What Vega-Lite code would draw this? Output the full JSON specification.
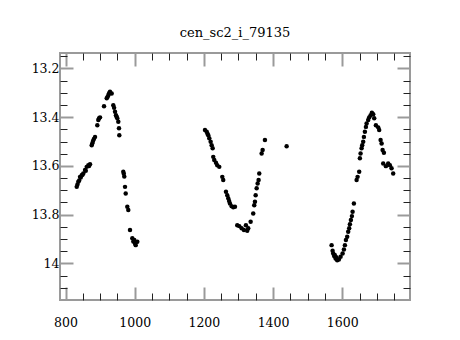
{
  "$schema": "https://vega.github.io/schema/vega-lite/v6.json",
  "autosize": "none",
  "width": 350,
  "height": 247,
  "padding": {"left": 60, "top": 53, "right": 50, "bottom": 40},
  "background": "white",
  "title": {"text": "cen_sc2_i_79135", "font": "DejaVu Serif", "fontSize": 13, "fontWeight": "normal", "color": "black", "offset": 10, "anchor": "middle"},
  "config": {
    "view": {"stroke": "#9a9a9a", "strokeWidth": 2},
    "axis": {"domain": false, "grid": false, "title": null, "labelFont": "DejaVu Serif", "labelFontSize": 12.5, "labelColor": "black"}
  },
  "data": {"values": [
    {"t": 832.4, "m": 13.686}, {"t": 834.5, "m": 13.676}, {"t": 837.0, "m": 13.665}, {"t": 839.5, "m": 13.66}, {"t": 841.9, "m": 13.645}, {"t": 844.0, "m": 13.648},
    {"t": 846.8, "m": 13.638}, {"t": 849.0, "m": 13.636}, {"t": 851.4, "m": 13.631}, {"t": 856.4, "m": 13.617}, {"t": 858.5, "m": 13.62}, {"t": 861.3, "m": 13.604},
    {"t": 865.9, "m": 13.597}, {"t": 868.0, "m": 13.6}, {"t": 870.8, "m": 13.593},
    {"t": 875.7, "m": 13.515}, {"t": 877.5, "m": 13.507}, {"t": 879.5, "m": 13.498}, {"t": 882.0, "m": 13.49}, {"t": 885.3, "m": 13.481},
    {"t": 891.9, "m": 13.433}, {"t": 894.8, "m": 13.412}, {"t": 897.0, "m": 13.405}, {"t": 899.7, "m": 13.401},
    {"t": 911.3, "m": 13.355}, {"t": 919.1, "m": 13.323}, {"t": 921.0, "m": 13.318}, {"t": 923.7, "m": 13.31}, {"t": 926.0, "m": 13.302}, {"t": 928.6, "m": 13.296}, {"t": 933.5, "m": 13.303},
    {"t": 938.1, "m": 13.351}, {"t": 940.5, "m": 13.362}, {"t": 943.1, "m": 13.378}, {"t": 945.9, "m": 13.392}, {"t": 947.5, "m": 13.398}, {"t": 949.7, "m": 13.405},
    {"t": 952.6, "m": 13.419}, {"t": 954.6, "m": 13.446}, {"t": 955.5, "m": 13.474},
    {"t": 967.0, "m": 13.624}, {"t": 968.5, "m": 13.632}, {"t": 969.9, "m": 13.644}, {"t": 972.0, "m": 13.686}, {"t": 974.0, "m": 13.713},
    {"t": 978.6, "m": 13.768}, {"t": 981.5, "m": 13.781},
    {"t": 986.4, "m": 13.863}, {"t": 993.1, "m": 13.897}, {"t": 996.0, "m": 13.91}, {"t": 998.8, "m": 13.904}, {"t": 1001.0, "m": 13.918}, {"t": 1002.9, "m": 13.925}, {"t": 1007.5, "m": 13.911},
    {"t": 1203.2, "m": 13.453}, {"t": 1208.1, "m": 13.46}, {"t": 1210.5, "m": 13.468}, {"t": 1212.7, "m": 13.474}, {"t": 1215.6, "m": 13.487}, {"t": 1219.6, "m": 13.501},
    {"t": 1222.5, "m": 13.515}, {"t": 1225.4, "m": 13.528}, {"t": 1227.1, "m": 13.563}, {"t": 1230.0, "m": 13.576}, {"t": 1235.0, "m": 13.587},
    {"t": 1238.7, "m": 13.597}, {"t": 1244.5, "m": 13.604}, {"t": 1253.2, "m": 13.645}, {"t": 1256.0, "m": 13.658},
    {"t": 1263.9, "m": 13.706}, {"t": 1267.6, "m": 13.72}, {"t": 1270.5, "m": 13.733}, {"t": 1273.0, "m": 13.744}, {"t": 1275.4, "m": 13.754}, {"t": 1280.3, "m": 13.765},
    {"t": 1285.0, "m": 13.77}, {"t": 1289.9, "m": 13.768},
    {"t": 1296.5, "m": 13.843}, {"t": 1302.3, "m": 13.847}, {"t": 1309.2, "m": 13.856}, {"t": 1315.9, "m": 13.863}, {"t": 1321.6, "m": 13.843},
    {"t": 1325.4, "m": 13.866}, {"t": 1328.3, "m": 13.856}, {"t": 1335.2, "m": 13.829},
    {"t": 1342.7, "m": 13.795}, {"t": 1345.6, "m": 13.761}, {"t": 1347.7, "m": 13.747}, {"t": 1349.7, "m": 13.72}, {"t": 1352.6, "m": 13.692},
    {"t": 1355.5, "m": 13.672}, {"t": 1358.3, "m": 13.658}, {"t": 1360.1, "m": 13.631},
    {"t": 1367.0, "m": 13.549}, {"t": 1369.9, "m": 13.535}, {"t": 1376.6, "m": 13.494}, {"t": 1439.3, "m": 13.519},
    {"t": 1569.3, "m": 13.925}, {"t": 1572.2, "m": 13.948}, {"t": 1574.0, "m": 13.959}, {"t": 1576.8, "m": 13.97}, {"t": 1578.5, "m": 13.965}, {"t": 1580.9, "m": 13.98},
    {"t": 1583.0, "m": 13.975}, {"t": 1585.5, "m": 13.987}, {"t": 1590.4, "m": 13.984}, {"t": 1595.3, "m": 13.973}, {"t": 1601.1, "m": 13.959}, {"t": 1604.9, "m": 13.943},
    {"t": 1607.8, "m": 13.925}, {"t": 1610.7, "m": 13.904}, {"t": 1614.4, "m": 13.891}, {"t": 1617.3, "m": 13.87}, {"t": 1620.2, "m": 13.856},
    {"t": 1622.2, "m": 13.839}, {"t": 1625.1, "m": 13.822}, {"t": 1628.0, "m": 13.806}, {"t": 1630.0, "m": 13.788}, {"t": 1633.8, "m": 13.754},
    {"t": 1641.6, "m": 13.658}, {"t": 1644.5, "m": 13.645}, {"t": 1649.1, "m": 13.624}, {"t": 1651.1, "m": 13.569}, {"t": 1653.1, "m": 13.549},
    {"t": 1656.0, "m": 13.528}, {"t": 1657.8, "m": 13.515}, {"t": 1660.7, "m": 13.501}, {"t": 1662.7, "m": 13.481}, {"t": 1665.6, "m": 13.46},
    {"t": 1668.5, "m": 13.44}, {"t": 1670.5, "m": 13.426}, {"t": 1675.1, "m": 13.412}, {"t": 1678.0, "m": 13.401}, {"t": 1682.1, "m": 13.392},
    {"t": 1685.8, "m": 13.382}, {"t": 1689.6, "m": 13.388}, {"t": 1692.5, "m": 13.405}, {"t": 1697.4, "m": 13.433}, {"t": 1704.0, "m": 13.442},
    {"t": 1706.9, "m": 13.453}, {"t": 1711.0, "m": 13.494}, {"t": 1713.9, "m": 13.508}, {"t": 1716.8, "m": 13.535}, {"t": 1720.5, "m": 13.546},
    {"t": 1718.5, "m": 13.59}, {"t": 1726.3, "m": 13.601}, {"t": 1732.9, "m": 13.59}, {"t": 1737.8, "m": 13.597}, {"t": 1742.7, "m": 13.61}, {"t": 1747.4, "m": 13.631}
  ]},
  "layer": [
    {
      "mark": {"type": "circle", "color": "black", "opacity": 1, "size": 20},
      "encoding": {
        "x": {"field": "t", "type": "quantitative",
          "scale": {"domain": [784, 1796], "nice": false, "zero": false},
          "axis": {"orient": "bottom", "values": [800, 850, 900, 950, 1000, 1050, 1100, 1150, 1200, 1250, 1300, 1350, 1400, 1450, 1500, 1550, 1600, 1650, 1700, 1750],
            "labelExpr": "datum.value % 200 === 0 ? format(datum.value, 'd') : ''",
            "tickSize": {"condition": {"test": "datum.value % 200 === 0", "value": -13}, "value": -7},
            "tickColor": {"condition": {"test": "datum.value % 200 === 0", "value": "#9a9a9a"}, "value": "#222"},
            "tickWidth": {"condition": {"test": "datum.value % 200 === 0", "value": 2}, "value": 1},
            "labelPadding": 29, "labelFlush": false, "labelOverlap": false}},
        "y": {"field": "m", "type": "quantitative",
          "scale": {"domain": [14.15, 13.137], "nice": false, "zero": false},
          "axis": {"orient": "left", "values": [13.15, 13.2, 13.25, 13.3, 13.35, 13.4, 13.45, 13.5, 13.55, 13.6, 13.65, 13.7, 13.75, 13.8, 13.85, 13.9, 13.95, 14, 14.05, 14.1],
            "labelExpr": "abs(datum.value*5 - round(datum.value*5)) < 0.001 ? format(datum.value, '~g') : ''",
            "tickSize": {"condition": {"test": "abs(datum.value*5 - round(datum.value*5)) < 0.001", "value": -13}, "value": -7},
            "tickColor": {"condition": {"test": "abs(datum.value*5 - round(datum.value*5)) < 0.001", "value": "#9a9a9a"}, "value": "#222"},
            "tickWidth": {"condition": {"test": "abs(datum.value*5 - round(datum.value*5)) < 0.001", "value": 2}, "value": 1},
            "labelPadding": 14, "labelFlush": false, "labelOverlap": false}}
      }
    },
    {
      "mark": {"type": "circle", "opacity": 0},
      "encoding": {
        "x": {"field": "t", "type": "quantitative",
          "axis": {"orient": "top", "values": [800, 850, 900, 950, 1000, 1050, 1100, 1150, 1200, 1250, 1300, 1350, 1400, 1450, 1500, 1550, 1600, 1650, 1700, 1750],
            "labels": false,
            "tickSize": {"condition": {"test": "datum.value % 200 === 0", "value": -13}, "value": -7},
            "tickColor": {"condition": {"test": "datum.value % 200 === 0", "value": "#9a9a9a"}, "value": "#222"},
            "tickWidth": {"condition": {"test": "datum.value % 200 === 0", "value": 2}, "value": 1}}},
        "y": {"field": "m", "type": "quantitative",
          "axis": {"orient": "right", "values": [13.15, 13.2, 13.25, 13.3, 13.35, 13.4, 13.45, 13.5, 13.55, 13.6, 13.65, 13.7, 13.75, 13.8, 13.85, 13.9, 13.95, 14, 14.05, 14.1],
            "labels": false,
            "tickSize": {"condition": {"test": "abs(datum.value*5 - round(datum.value*5)) < 0.001", "value": -13}, "value": -7},
            "tickColor": {"condition": {"test": "abs(datum.value*5 - round(datum.value*5)) < 0.001", "value": "#9a9a9a"}, "value": "#222"},
            "tickWidth": {"condition": {"test": "abs(datum.value*5 - round(datum.value*5)) < 0.001", "value": 2}, "value": 1}}}
      }
    }
  ],
  "resolve": {"axis": {"x": "independent", "y": "independent"}}
}
